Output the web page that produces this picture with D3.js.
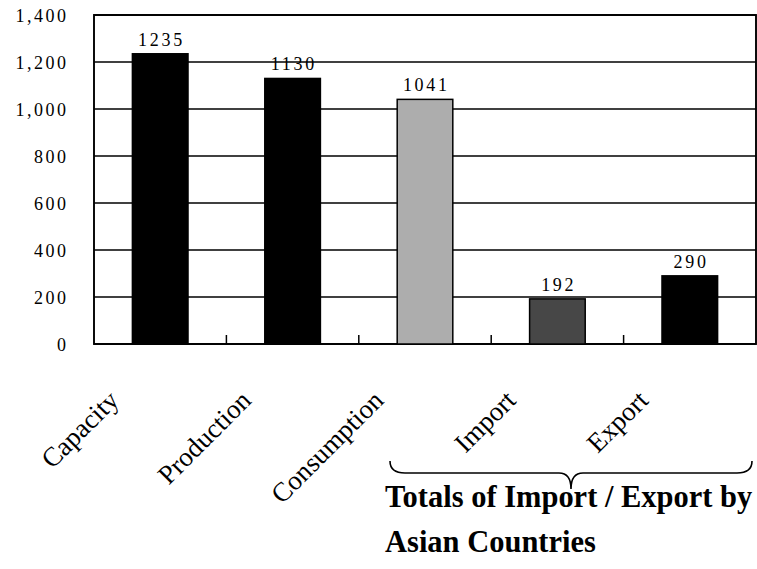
<!DOCTYPE html>
<html><head><meta charset="utf-8">
<script src="https://cdn.jsdelivr.net/npm/d3@7"></script>
<style>
html,body{margin:0;padding:0;background:#fff;}
svg{display:block;}
text{font-family:"Liberation Serif","Times New Roman",serif;fill:#000;}
</style></head>
<body>
<svg id="chart" width="757" height="569"></svg>
<script>
const categories = ["Capacity","Production","Consumption","Import","Export"];
const values = [1235,1130,1041,192,290];
const fills = ["#000","#000","#adadad","#474747","#000"];
const yTicks = [0,200,400,600,800,1000,1200,1400];
const groupTitle = ["Totals of Import / Export by","Asian Countries"];

const svg = d3.select("#chart");
const W = 757, H = 569;
const m = {left:94, right:1, top:15, bottom:225};

const x = d3.scaleBand().domain(categories).range([m.left, W - m.right]).paddingInner(0.58).paddingOuter(0.29);
const xb = d3.scaleBand().domain(categories).range([m.left, W - m.right]);
const y = d3.scaleLinear().domain([0,1400]).range([H - m.bottom, m.top]);

// gridlines
svg.append("g").selectAll("line").data(yTicks).join("line")
  .attr("x1", m.left).attr("x2", W - m.right)
  .attr("y1", d=>y(d)).attr("y2", d=>y(d))
  .attr("stroke","#000").attr("stroke-width",1.7);

// frame
svg.append("rect").attr("x",m.left).attr("y",y(1400)).attr("width",W-m.right-m.left).attr("height",y(0)-y(1400))
  .attr("fill","none").attr("stroke","#000").attr("stroke-width",1.9);

// y axis labels
const yAxis = d3.axisLeft(y).tickValues(yTicks).tickSize(0).tickPadding(0).tickFormat(d3.format(","));
const ya = svg.append("g").attr("transform",`translate(${m.left-28},0)`).call(yAxis);
ya.select(".domain").remove();
ya.selectAll("text").attr("font-size",18).attr("letter-spacing","2.5px")
  .attr("dx","2.5px").attr("dy","0.35em");

// bars
svg.append("g").selectAll("rect").data(categories).join("rect")
  .attr("x", d=>x(d)).attr("width", x.bandwidth())
  .attr("y", (d,i)=>y(values[i])).attr("height",(d,i)=>y(0)-y(values[i]))
  .attr("fill",(d,i)=>fills[i]).attr("stroke","#000").attr("stroke-width",1.5);

// x ticks between categories
svg.append("g").selectAll("line").data(categories.slice(1)).join("line")
  .attr("x1", d=>xb(d)).attr("x2", d=>xb(d))
  .attr("y1", y(0)).attr("y2", y(0)-9)
  .attr("stroke","#000").attr("stroke-width",1.5);

// value labels
svg.append("g").selectAll("text").data(categories).join("text")
  .attr("x", d=>x(d)+x.bandwidth()/2 + 1.3)
  .attr("y", (d,i)=>y(values[i]) - 8)
  .attr("text-anchor","middle").attr("font-size",18).attr("letter-spacing","2.7px")
  .text((d,i)=>values[i]);

// category labels (rotated)
svg.append("g").selectAll("text").data(categories).join("text")
  .attr("transform", d=>`translate(${x(d)+x.bandwidth()/2-40},402) rotate(-45)`)
  .attr("text-anchor","end").attr("font-size",27)
  .text(d=>d);

// brace
const bx0 = 390, bx1 = 752, by0 = 461, by1 = 473, btip = 489, bmid = (bx0+bx1)/2;
const p = d3.path();
p.moveTo(bx0, by0);
p.quadraticCurveTo(bx0, by1, bx0+15, by1);
p.lineTo(bmid-12, by1);
p.quadraticCurveTo(bmid, by1, bmid, btip);
p.quadraticCurveTo(bmid, by1, bmid+12, by1);
p.lineTo(bx1-15, by1);
p.quadraticCurveTo(bx1, by1, bx1, by0);
svg.append("path").attr("d", p.toString()).attr("fill","none").attr("stroke","#000").attr("stroke-width",1.6);

// group title
svg.append("g").attr("transform","translate(385,0) scale(0.953,1)")
  .selectAll("text").data(groupTitle).join("text")
  .attr("x", 0).attr("y",(d,i)=>507 + i*45)
  .attr("font-size",32).attr("font-weight","bold")
  .text(d=>d);
</script>
</body></html>
